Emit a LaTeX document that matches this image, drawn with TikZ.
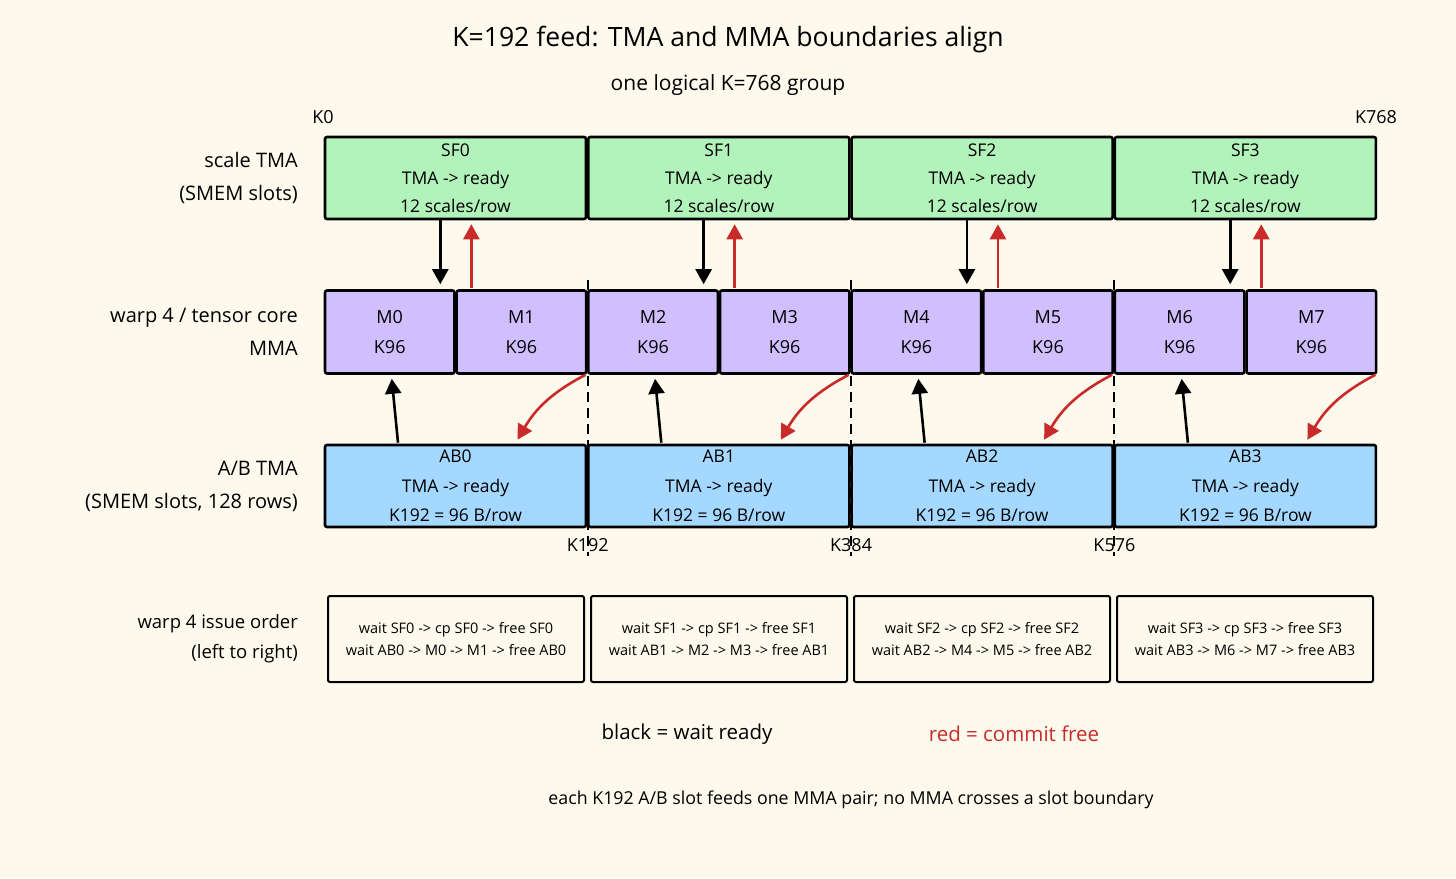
\documentclass[tikz,border=0pt]{standalone}
\usepackage{fontspec}
\setmainfont{Open Sans}
\usetikzlibrary{arrows.meta}
\definecolor{paper}{RGB}{253,250,237}
\definecolor{sfgreen}{RGB}{178,242,187}
\definecolor{mmapurple}{RGB}{208,191,255}
\definecolor{abblue}{RGB}{165,216,255}
\definecolor{freered}{RGB}{201,42,42}
\tikzset{
	slot/.style={draw=black, line width=2.6pt, rounded corners=2pt, align=center, inner sep=0pt},
	sfbox/.style={slot, fill=sfgreen, minimum width=261pt, minimum height=82pt, font=\fontsize{17.5}{28}\selectfont},
	mmabox/.style={slot, fill=mmapurple, minimum width=129.5pt, minimum height=83pt, font=\fontsize{18}{30}\selectfont},
	abbox/.style={slot, fill=abblue, minimum width=261pt, minimum height=82pt, font=\fontsize{17.5}{29.5}\selectfont},
	issuebox/.style={draw=black, line width=2pt, rounded corners=2pt, fill=paper, minimum width=256pt, minimum height=86pt, align=center, font=\fontsize{14.5}{22}\selectfont},
	rowlabel/.style={anchor=east, align=right, inner sep=0pt, font=\fontsize{20}{33}\selectfont},
	klabel/.style={font=\fontsize{18}{20}\selectfont},
	waitarrow/.style={line width=2.6pt, -{Triangle[length=15pt,width=16pt]}},
	freearrow/.style={waitarrow, draw=freered},
	slotline/.style={line width=2pt, dash pattern=on 10pt off 6pt},
}
\begin{document}
\begin{tikzpicture}[x=1pt,y=-1pt]
	% paper
	\fill[paper] (0,0) rectangle (1456,878);
	\useasboundingbox (0,0) rectangle (1456,878);
	% titles
	\node[font=\fontsize{26.6}{30}\selectfont] (title) at (728,40) {K=192 feed: TMA and MMA boundaries align};
	\node[font=\fontsize{21}{24}\selectfont] (group) at (728,85) {one logical K=768 group};
	\node[klabel] (k0) at (323,117) {K0};
	\node[klabel] (k768) at (1376,117) {K768};
	% row labels
	\node[rowlabel] (lsf) at (298,178) {scale TMA\\(SMEM slots)};
	\node[rowlabel] (lmma) at (298,332) {warp 4 / tensor core\\MMA};
	\node[rowlabel] (lab) at (298,486) {A/B TMA\\(SMEM slots, 128 rows)};
	\node[rowlabel, font=\fontsize{18.5}{30}\selectfont] (lissue) at (298,639) {warp 4 issue order\\(left to right)};
	% slots, one K192 group each
	\foreach \i in {0,...,3}{
		\pgfmathsetmacro{\cx}{455.5+263.3*\i}
		\pgfmathtruncatemacro{\a}{2*\i}
		\pgfmathtruncatemacro{\b}{2*\i+1}
		\pgfmathsetmacro{\ma}{389.75+263.3*\i}
		\pgfmathsetmacro{\mb}{521.4+263.3*\i}
		\node[sfbox] (sf\i) at (\cx,178) {SF\i\\TMA -> ready\\12 scales/row};
		\node[mmabox] (m\a) at (\ma,332) {M\a\\K96};
		\node[mmabox] (m\b) at (\mb,332) {M\b\\K96};
		\node[abbox] (ab\i) at (\cx,486) {AB\i\\TMA -> ready\\K192 = 96 B/row};
		\node[issuebox] (iss\i) at (456+263*\i,639) {wait SF\i{} -> cp SF\i{} -> free SF\i\\wait AB\i{} -> M\a{} -> M\b{} -> free AB\i};
		% black = wait, red = free
		\draw[waitarrow] ([xshift=-15.5pt]m\a.north east |- sf\i.south) -- ([xshift=-15.5pt,yshift=5pt]m\a.north east);
		\draw[freearrow] ([xshift=16pt,yshift=1pt]m\b.north west) -- ([xshift=16pt,yshift=-4pt]m\b.north west |- sf\i.south);
		\draw[waitarrow] ([xshift=-57.5pt,yshift=1pt]ab\i.north) -- ([xshift=2pt,yshift=-4pt]m\a.south);
		\draw[freearrow] ([xshift=-2pt]m\b.south east) to[bend right=16] ([xshift=62pt,yshift=4pt]ab\i.north);
	}
	% slot boundaries
	\foreach \k/\t in {1/K192,2/K384,3/K576}{
		\pgfmathsetmacro{\kx}{325+263.3*\k-0.5}
		\coordinate (kt\k) at (\kx,280);
		\coordinate (kb\k) at (\kx,556);
		\node[klabel] (kl\k) at (\kx,545) {\t};
		\draw[slotline] (kt\k) -- (kb\k);
	}
	% legend
	\node[font=\fontsize{20.5}{24}\selectfont] (lblack) at (687,734) {black = wait ready};
	\node[font=\fontsize{20.5}{24}\selectfont, text=freered] (lred) at (1014,734) {red = commit free};
	\node[font=\fontsize{17.8}{22}\selectfont] (note) at (851,800) {each K192 A/B slot feeds one MMA pair; no MMA crosses a slot boundary};
\end{tikzpicture}
\end{document}
